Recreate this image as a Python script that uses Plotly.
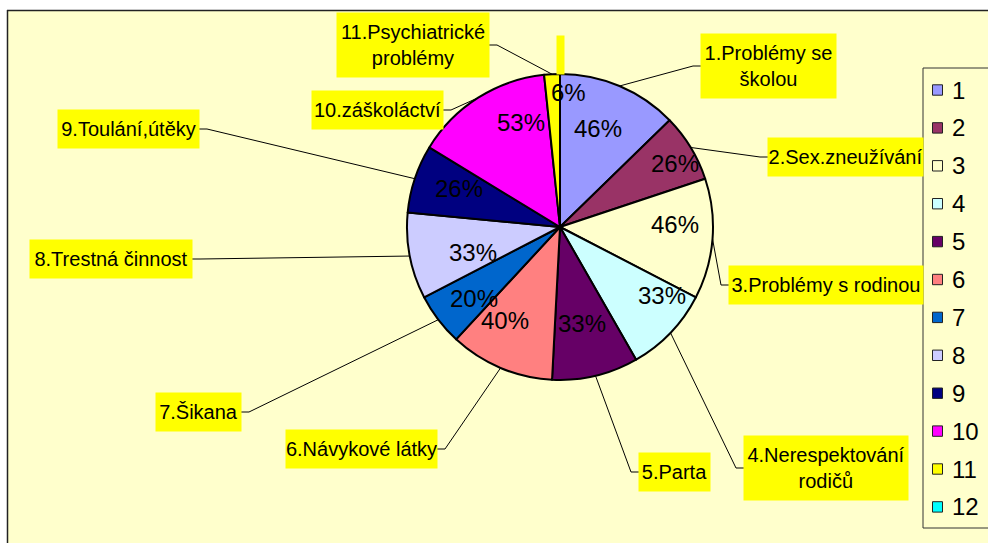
import math
import plotly.graph_objects as go

# data
keys = ["1", "2", "3", "4", "5", "6", "7", "8", "9", "10", "11", "12"]
categories = ["1.Problémy se<br>školou", "2.Sex.zneužívání", "3.Problémy s rodinou",
              "4.Nerespektování<br>rodičů", "5.Parta", "6.Návykové látky", "7.Šikana",
              "8.Trestná činnost", "9.Toulání,útěky", "10.záškoláctví",
              "11.Psychiatrické<br>problémy", ""]
values = [46, 26, 46, 33, 33, 40, 20, 33, 26, 53, 6, 0]

# styles
colors = ["#9999FF", "#993366", "#FFFFCC", "#CCFFFF", "#660066", "#FF8080",
          "#0066CC", "#CCCCFF", "#000080", "#FF00FF", "#FFFF00", "#00FFFF"]
BG = "#FFFFCC"
FONT = "Arial, Liberation Sans, sans-serif"
W, H = 988, 543
CX, CY, R = 560, 227, 153
# label boxes in pixels: x0, x1, y0, y1
boxes = [(701, 836, 34, 98), (768, 923, 138, 176), (729, 923, 266, 304),
         (744, 908, 436, 500), (639, 710, 453, 491), (286, 437, 430, 468),
         (156, 241, 393, 431), (30, 192, 240, 278), (58, 199, 110, 148),
         (312, 443, 91, 129), (337, 489, 13, 77), (557, 564, 36, 74)]
# where the % text sits inside each slice (fraction of radius, angle shift)
pct_r = [0.69, 0.86, 0.75, 0.80, 0.65, 0.71, 0.73, 0.59, 0.71, 0.73, 0.88, 0]
pct_da = [-1.7, 2.6, -5.5, -9.8, 0.6, 7.7, -2.6, -5.3, 2.5, 11.9, 6.8, 0]
# legend box and rows
LEG_X0, LEG_Y0, LEG_Y1 = 923, 68, 528
LEG_ROW0, LEG_STEP = 90, 37.9


def fx(x):
    return x / W


def fy(y):
    return 1 - y / H


def polar(a, r):
    return CX + r * math.sin(math.radians(a)), CY - r * math.cos(math.radians(a))


total = sum(values)
mids = []
cum = 0
for v in values:
    mids.append((cum + v / 2) / total * 360)
    cum += v

fig = go.Figure()
fig.add_trace(go.Pie(labels=keys, values=values, sort=False, direction="clockwise", rotation=0,
                     marker=dict(colors=colors, line=dict(color="black", width=2)),
                     textinfo="none", showlegend=False,
                     domain=dict(x=[fx(CX - R), fx(CX + R)], y=[fy(CY + R), fy(CY - R)])))

shapes = [
    dict(type="rect", xref="paper", yref="paper", x0=0, x1=1, y0=fy(10), y1=1,
         fillcolor="white", line=dict(width=0)),
    dict(type="rect", xref="paper", yref="paper", x0=0, x1=fx(7), y0=0, y1=1,
         fillcolor="white", line=dict(width=0)),
    dict(type="line", xref="paper", yref="paper", x0=fx(7), x1=1, y0=fy(10.5), y1=fy(10.5),
         line=dict(color="#222222", width=1.5)),
    dict(type="line", xref="paper", yref="paper", x0=fx(7.5), x1=fx(7.5), y0=0, y1=fy(10),
         line=dict(color="#222222", width=1.5)),
]

annotations = []
for i, (txt, v) in enumerate(zip(categories, values)):
    x0, x1, y0, y1 = boxes[i]
    annotations.append(dict(x=fx((x0 + x1) / 2), y=fy((y0 + y1) / 2), xref="paper", yref="paper",
                            xanchor="center", yanchor="middle",
                            text=txt if txt else " ", showarrow=False, bgcolor="#FFFF00",
                            width=x1 - x0, height=y1 - y0, borderpad=0,
                            font=dict(family=FONT, size=20, color="black")))
    if v == 0:
        continue
    ex, ey = polar(mids[i], R)
    cy = (y0 + y1) / 2
    side = x0 if (x0 + x1) / 2 > CX else x1
    elbow = side - 8 if side == x0 else side + 8
    path = f"M {fx(ex)} {fy(ey)} L {fx(elbow)} {fy(cy)} L {fx(side)} {fy(cy)}"
    shapes.append(dict(type="path", xref="paper", yref="paper", path=path,
                       line=dict(color="black", width=1)))
    tx, ty = polar(mids[i] + pct_da[i], pct_r[i] * R)
    annotations.append(dict(x=fx(tx), y=fy(ty), xref="paper", yref="paper", text=f"{v}%",
                            xanchor="center", yanchor="middle",
                            showarrow=False, font=dict(family=FONT, size=24, color="black")))

# legend drawn as a box with colour keys
shapes.append(dict(type="rect", xref="paper", yref="paper", x0=fx(LEG_X0), x1=fx(1000),
                   y0=fy(LEG_Y1), y1=fy(LEG_Y0), fillcolor=BG,
                   line=dict(color="#333333", width=1)))
for i, (k, c) in enumerate(zip(keys, colors)):
    ry = LEG_ROW0 + i * LEG_STEP
    shapes.append(dict(type="rect", xref="paper", yref="paper", x0=fx(932.5), x1=fx(942.5),
                       y0=fy(ry + 5.2), y1=fy(ry - 5.2), fillcolor=c,
                       line=dict(color="#222222", width=1)))
    annotations.append(dict(x=fx(950), y=fy(ry), xref="paper", yref="paper", text=k,
                            xanchor="left", yanchor="middle", showarrow=False,
                            font=dict(family=FONT, size=24, color="black")))

fig.update_layout(width=W, height=H, margin=dict(l=0, r=0, t=0, b=0),
                  paper_bgcolor=BG, plot_bgcolor=BG, showlegend=False,
                  shapes=shapes, annotations=annotations)

fig.write_html("out.html", config={"displayModeBar": False},
               post_script="document.body.style.margin='0';")
